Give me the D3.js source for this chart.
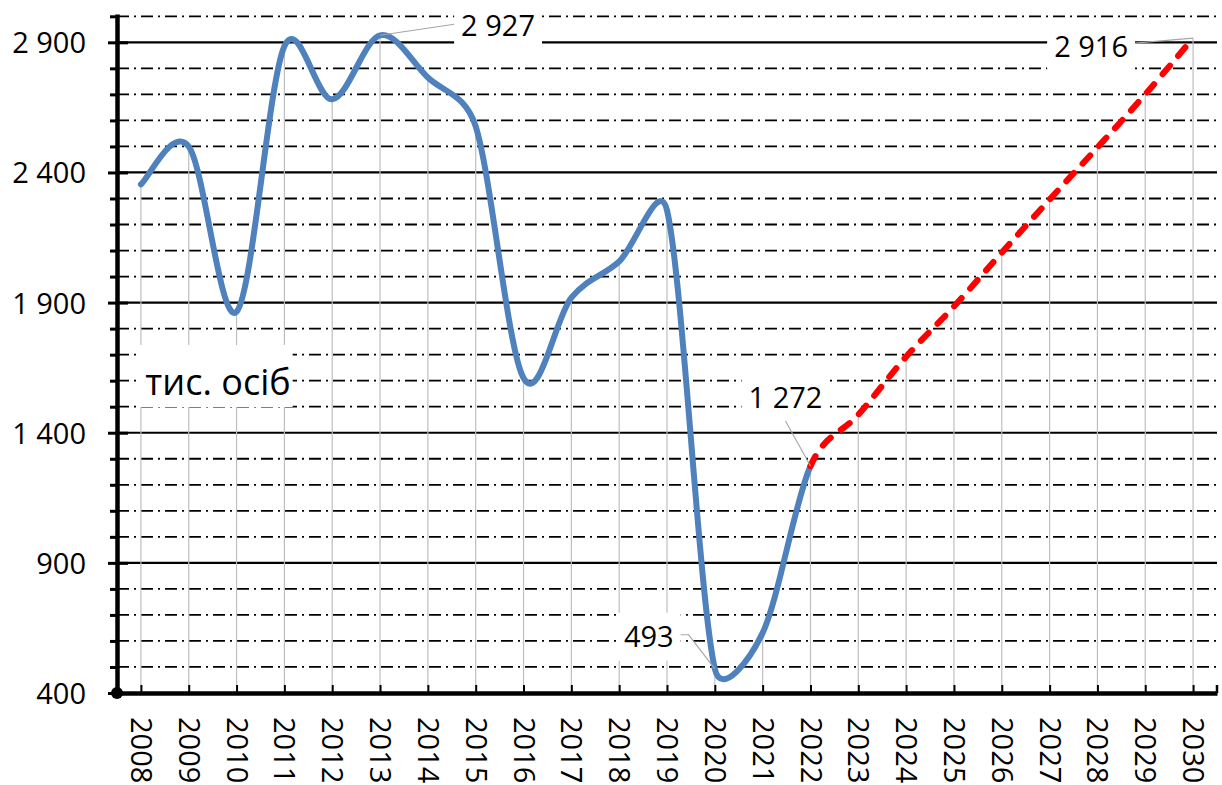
<!DOCTYPE html>
<html>
<head>
<meta charset="utf-8">
<script src="https://cdn.jsdelivr.net/npm/d3@7"></script>
<style>
  html, body { margin: 0; padding: 0; background: #fff; }
  svg { display: block; }
  text { font-family: "Open Sans", "DejaVu Sans", sans-serif; fill: #000; }
</style>
</head>
<body>
<svg id="chart" width="1222" height="785"></svg>
<script>
// Category axis: years
const years = ["2008","2009","2010","2011","2012","2013","2014","2015","2016","2017","2018","2019",
               "2020","2021","2022","2023","2024","2025","2026","2027","2028","2029","2030"];

// Observed values, thousand persons
const actualYears  = ["2008","2009","2010","2011","2012","2013","2014","2015","2016","2017","2018","2019","2020","2021","2022"];
const actualValues = [2354, 2500, 1865, 2885, 2681, 2927, 2765, 2577, 1610, 1919, 2058, 2255, 493, 631, 1272];

// Forecast values, thousand persons
const forecastYears  = ["2022","2023","2024","2025","2026","2027","2028","2029","2030"];
const forecastValues = [1272, 1469, 1692, 1885, 2092, 2296, 2496, 2700, 2916];

// Value axis
const yMajorTicks = [400, 900, 1400, 1900, 2400, 2900];
const yMinorTicks = [400, 500, 600, 700, 800, 900, 1000, 1100, 1200, 1300, 1400, 1500, 1600, 1700, 1800,
                     1900, 2000, 2100, 2200, 2300, 2400, 2500, 2600, 2700, 2800, 2900, 3000];
const unitLabel = "тис. осіб";

// Years that carry a value label
const labelledYears = ["2013", "2020", "2022", "2030"];

const svg = d3.select("#chart");
const fmt = d3.formatLocale({ decimal: ",", thousands: " ", grouping: [3], currency: ["", ""] }).format(",d");

const x = d3.scalePoint().domain(years).range([117, 1217]).padding(0.5);
const y = d3.scaleLinear().domain([400, 3000]).range([693, 16.3]);

const actual = actualYears.map((yr, i) => ({ year: yr, value: actualValues[i] }));
const forecast = forecastYears.map((yr, i) => ({ year: yr, value: forecastValues[i] }));
const allPoints = actual.concat(forecast.slice(1));   // one continuous series 2008–2030

const BLUE = "#4F81BD", RED = "#FF0000";
const xLeft = x.range()[0], xRight = x.range()[1], yBase = y(400);

// Spreadsheet-style smoothing: cubic Bézier segments whose handles follow the
// neighbouring points (1/6 of the chord) and are capped at half the segment length.
// Only segments with index in [from, to) are emitted, so one smoothed series can be
// drawn in several styles.
function smoothRange(from, to) {
  return function (context) {
    let pts;
    return {
      areaStart() {}, areaEnd() {},
      lineStart() { pts = []; },
      point(px, py) { pts.push([+px, +py]); },
      lineEnd() {
        const n = pts.length;
        const cap = (v, max) => {
          const len = Math.hypot(v[0], v[1]);
          return len > max && len > 0 ? [v[0] * max / len, v[1] * max / len] : v;
        };
        let started = false;
        for (let i = Math.max(0, from); i < Math.min(to, n - 1); i++) {
          const p0 = pts[i - 1] || pts[i], p1 = pts[i], p2 = pts[i + 1], p3 = pts[i + 2] || pts[i + 1];
          const half = Math.hypot(p2[0] - p1[0], p2[1] - p1[1]) / 2;
          const t1 = cap([(p2[0] - p0[0]) / 6, (p2[1] - p0[1]) / 6], half);
          const t2 = cap([(p3[0] - p1[0]) / 6, (p3[1] - p1[1]) / 6], half);
          if (!started) { context.moveTo(p1[0], p1[1]); started = true; }
          context.bezierCurveTo(p1[0] + t1[0], p1[1] + t1[1], p2[0] - t2[0], p2[1] - t2[1], p2[0], p2[1]);
        }
      }
    };
  };
}

// Horizontal gridlines: solid at major values, dash-dot at every 100
svg.append("g").selectAll("line")
  .data(yMinorTicks.filter(v => v > 400))
  .join("line")
  .attr("x1", xLeft).attr("x2", xRight)
  .attr("y1", d => y(d)).attr("y2", d => y(d))
  .attr("stroke", "#000")
  .attr("stroke-width", d => yMajorTicks.includes(d) ? 2.2 : 1.8)
  .attr("stroke-dasharray", d => yMajorTicks.includes(d) ? null : "12,5,2,5");

// Drop lines from every point to the category axis
svg.append("g").selectAll("line")
  .data(allPoints)
  .join("line")
  .attr("x1", d => x(d.year)).attr("x2", d => x(d.year))
  .attr("y1", d => y(d.value)).attr("y2", yBase)
  .attr("stroke", "#bfbfbf").attr("stroke-width", 1.2);

// Layer for label backgrounds (filled once texts are measured)
const boxLayer = svg.append("g");

const splitIndex = actual.length - 1;   // segment index where the forecast begins (2022)

// Observed part
svg.append("path")
  .datum(allPoints)
  .attr("d", d3.line().x(d => x(d.year)).y(d => y(d.value)).curve(smoothRange(0, splitIndex)))
  .attr("fill", "none")
  .attr("stroke", BLUE)
  .attr("stroke-width", 6)
  .attr("stroke-linecap", "round")
  .attr("stroke-linejoin", "round");

// Forecast part
svg.append("path")
  .datum(allPoints)
  .attr("d", d3.line().x(d => x(d.year)).y(d => y(d.value)).curve(smoothRange(splitIndex, allPoints.length)))
  .attr("fill", "none")
  .attr("stroke", RED)
  .attr("stroke-width", 6.2)
  .attr("stroke-linecap", "round")
  .attr("stroke-dasharray", "11,13");

// Value labels with leader lines
const placement = {
  "2013": { dx: 118, dy: -10, leader: "left" },
  "2020": { dx: -66, dy: -32, leader: "rightElbow" },
  "2022": { dx: -25, dy: -68, leader: "bottom" },
  "2030": { dx: -102, dy: 8, leader: "right" }
};
const labelLayer = svg.append("g");
const leaderLayer = svg.append("g");
labelledYears.forEach(yr => {
  const p = allPoints.find(d => d.year === yr);
  const px = x(p.year), py = y(p.value);
  const pl = placement[yr];
  const cx = px + pl.dx, cy = py + pl.dy;
  const t = labelLayer.append("text")
    .attr("x", cx).attr("y", cy + 10.4)
    .attr("text-anchor", "middle")
    .attr("font-size", 29)
    .text(fmt(p.value));
  const bb = t.node().getBBox();
  const bx0 = bb.x - 7, bx1 = bb.x + bb.width + 7, by0 = cy - 24, by1 = cy + 24;
  boxLayer.append("rect")
    .attr("x", bx0).attr("y", by0)
    .attr("width", bx1 - bx0).attr("height", by1 - by0)
    .attr("fill", "#fff");
  let pts;
  if (pl.leader === "left") pts = [[bx0, cy - 1], [px, py]];
  else if (pl.leader === "right") pts = [[bx1, cy - 3], [px, py]];
  else if (pl.leader === "rightElbow") pts = [[bx1, cy - 2], [bx1 + 8, cy - 2], [px, py]];
  else pts = [[cx, by1 - 1], [px, py]];
  leaderLayer.append("path")
    .attr("d", d3.line()(pts))
    .attr("fill", "none")
    .attr("stroke", "#a6a6a6")
    .attr("stroke-width", 1.1);
});

// Unit label
const unit = labelLayer.append("text")
  .attr("x", 218).attr("y", 395)
  .attr("text-anchor", "middle")
  .attr("font-size", 36)
  .text(unitLabel);
const ub = unit.node().getBBox();
boxLayer.append("rect")
  .attr("x", ub.x - 8).attr("y", 345)
  .attr("width", ub.width + 10).attr("height", 62)
  .attr("fill", "#fff");

// Value axis
const yAxisG = svg.append("g")
  .attr("transform", `translate(${xLeft},0)`)
  .call(d3.axisLeft(y)
    .tickValues(yMinorTicks)
    .tickSizeOuter(0)
    .tickSizeInner(7)
    .tickFormat(d => yMajorTicks.includes(d) ? fmt(d) : ""));
yAxisG.select(".domain")
  .attr("stroke", "#000").attr("stroke-width", 4.5).attr("stroke-linecap", "square");
yAxisG.selectAll(".tick line")
  .attr("stroke", "#000").attr("stroke-width", 3)
  .attr("x1", d => yMajorTicks.includes(d) ? 11 : 0)
  .attr("x2", d => yMajorTicks.includes(d) ? -9 : -7);
yAxisG.selectAll(".tick text")
  .attr("x", -31).attr("dy", null).attr("y", 10.4)
  .attr("font-size", 29)
  .attr("font-family", null)
  .attr("fill", "#000");

// Category axis
const xAxisG = svg.append("g")
  .attr("transform", `translate(0,${yBase})`)
  .call(d3.axisBottom(x).tickSizeOuter(0).tickSizeInner(-8));
xAxisG.select(".domain")
  .attr("stroke", "#000").attr("stroke-width", 4.5);
xAxisG.selectAll(".tick line").attr("stroke", "#000").attr("stroke-width", 2);
xAxisG.selectAll(".tick text")
  .attr("transform", "rotate(90)")
  .attr("x", 24).attr("y", 0).attr("dy", "0.36em")
  .attr("text-anchor", "start")
  .attr("font-size", 29)
  .attr("font-family", null)
  .attr("fill", "#000");
xAxisG.append("line")
  .attr("x1", xRight).attr("x2", xRight)
  .attr("y1", 0).attr("y2", -8)
  .attr("stroke", "#000").attr("stroke-width", 2.5);

// Origin marker
svg.append("circle")
  .attr("cx", xLeft).attr("cy", yBase).attr("r", 6)
  .attr("fill", "#000");
</script>
</body>
</html>
